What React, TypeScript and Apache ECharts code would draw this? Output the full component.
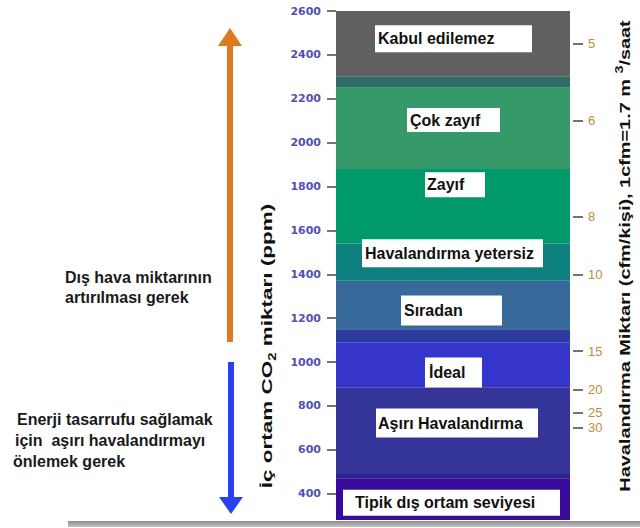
import React, { useEffect, useRef } from "react";
import * as echarts from "echarts";

// CO2 scale (ppm)
const yMin = 280;
const yMax = 2600;
const leftTicks = [400, 600, 800, 1000, 1200, 1400, 1600, 1800, 2000, 2200, 2400, 2600];

// Colour bands (ppm ranges)
const bandLower = [2300, 2250, 1880, 1540, 1370, 1150, 1090, 885, 490, 470, 280];
const bandUpper = [2600, 2300, 2250, 1880, 1540, 1370, 1150, 1090, 885, 490, 470];

// Band labels and the ppm level each label sits at
const labelNames = [
  "Kabul edilemez",
  "Çok zayıf",
  "Zayıf",
  "Havalandırma yetersiz",
  "Sıradan",
  "İdeal",
  "Aşırı Havalandırma",
  "Tipik dış ortam seviyesi",
];
const labelLevels = [2474, 2103, 1808, 1496, 1235, 952, 722, 359];

// Right axis: ventilation rate (cfm/person) and the ppm level each tick marks
const rightTickLabels = ["5", "6", "8", "10", "15", "20", "25", "30"];
const rightTickPpm = [2450, 2100, 1662, 1400, 1050, 875, 770, 700];

// Styles (kept apart from data)
const bandColors = [
  "#606060",
  "#2e6a66",
  "#35996a",
  "#00996b",
  "#0f8080",
  "#37699b",
  "#2b3b9e",
  "#3535cc",
  "#343499",
  "#2c2290",
  "#380a99",
];
const boxDx = [-78, -46, -28, -91, -52, -28, -77, -110];
const boxW = [157, 93, 60, 181, 101, 57, 162, 217];
const boxH = [27, 24, 25, 28, 30, 30, 29, 26];
const boxPad = [3, 3, 2, 3, 3, 4, 2, 12];

const FONT = "Liberation Sans";

export default function App() {
  const ref = useRef<HTMLDivElement>(null);

  useEffect(() => {
    if (!ref.current) return;
    const chart = echarts.init(ref.current, null, { renderer: "svg" });

    const bandData = bandLower.map((lo, i) => [0, lo, bandUpper[i], i]);
    const labelData = labelLevels.map((lv, i) => [0.5, lv, i]);

    const option: any = {
      animation: false,
      backgroundColor: "#ffffff",
      grid: { left: 336, right: 70, top: 11, bottom: 8 },
      xAxis: { type: "value", min: 0, max: 1, show: false },
      yAxis: [
        {
          type: "value",
          min: yMin,
          max: yMax,
          position: "left",
          offset: 3,
          axisLine: { show: false },
          splitLine: { show: false },
          axisTick: {
            show: true,
            length: 9,
            customValues: leftTicks,
            lineStyle: { color: "#444", width: 1.5 },
          },
          axisLabel: {
            customValues: leftTicks,
            margin: 12,
            color: "#5151b3",
            fontFamily: "DejaVu Sans",
            fontWeight: "bold",
            fontSize: 11,
            formatter: (v: number) => String(Math.round(v)),
          },
        },
        {
          type: "value",
          min: yMin,
          max: yMax,
          position: "right",
          offset: 3,
          axisLine: { show: false },
          splitLine: { show: false },
          axisTick: {
            show: true,
            length: 10,
            customValues: rightTickPpm,
            lineStyle: { color: "#444", width: 1.5 },
          },
          axisLabel: {
            customValues: rightTickPpm,
            margin: 15,
            color: "#c48b3a",
            fontFamily: FONT,
            fontSize: 13,
            formatter: (v: number) => {
              const i = rightTickPpm.findIndex((p) => Math.abs(p - v) < 0.5);
              return i >= 0 ? rightTickLabels[i] : "";
            },
          },
        },
      ],
      series: [
        {
          type: "custom",
          silent: true,
          clip: false,
          data: bandData,
          encode: { x: 0, y: [1, 2] },
          renderItem: (params: any, api: any) => {
            const lo = api.value(1);
            const hi = api.value(2);
            const idx = api.value(3);
            const p1 = api.coord([0, hi]);
            const p2 = api.coord([1, lo]);
            return {
              type: "rect",
              shape: { x: p1[0], y: p1[1], width: p2[0] - p1[0], height: p2[1] - p1[1] },
              style: { fill: bandColors[idx] },
            };
          },
        },
        {
          type: "custom",
          silent: true,
          clip: false,
          data: labelData,
          encode: { x: 0, y: 1 },
          renderItem: (params: any, api: any) => {
            const idx = api.value(2);
            const c = api.coord([api.value(0), api.value(1)]);
            const x = c[0] + boxDx[idx];
            const y = c[1] - boxH[idx] / 2;
            return {
              type: "group",
              children: [
                {
                  type: "rect",
                  shape: { x, y, width: boxW[idx], height: boxH[idx] },
                  style: { fill: "#ffffff" },
                },
                {
                  type: "text",
                  x: x + boxPad[idx],
                  y: c[1],
                  style: {
                    text: labelNames[idx],
                    fill: "#111",
                    fontFamily: FONT,
                    fontWeight: "bold",
                    fontSize: 16,
                    align: "left",
                    verticalAlign: "middle",
                  },
                },
              ],
            };
          },
        },
      ],
      graphic: [
        // orange arrow (up)
        { type: "rect", shape: { x: 227, y: 44, width: 6, height: 298 }, style: { fill: "#dd7a1e" } },
        { type: "polygon", shape: { points: [[218, 46], [242, 46], [230, 28]] }, style: { fill: "#dd7a1e" } },
        // blue arrow (down)
        { type: "rect", shape: { x: 228, y: 362, width: 6, height: 137 }, style: { fill: "#2a3ff0" } },
        { type: "polygon", shape: { points: [[219, 497], [243, 497], [231, 514]] }, style: { fill: "#2a3ff0" } },
        // bottom line
        {
          type: "rect",
          shape: { x: 68, y: 521, width: 572, height: 6 },
          style: {
            fill: new echarts.graphic.LinearGradient(0, 0, 0, 1, [
              { offset: 0, color: "#8c8c8c" },
              { offset: 1, color: "#c4c4c4" },
            ]),
          },
        },
        // left notes
        ...[
          { t: "Dış hava miktarının", x: 65, y: 277 },
          { t: "artırılması gerek", x: 65, y: 297 },
          { t: "Enerji tasarrufu sağlamak", x: 17, y: 419 },
          { t: "için  aşırı havalandırmayı", x: 15, y: 440 },
          { t: "önlemek gerek", x: 13, y: 461 },
        ].map((o) => ({
          type: "text",
          x: o.x,
          y: o.y,
          style: {
            text: o.t,
            fill: "#1a1a1a",
            fontFamily: FONT,
            fontWeight: "bold",
            fontSize: 16,
            align: "left",
            verticalAlign: "middle",
          },
        })),
        // left axis title
        {
          type: "text",
          x: 267,
          y: 346,
          rotation: Math.PI / 2,
          scaleX: 1.5,
          style: {
            text: "{a|İç ortam CO}{b|2}{a| miktarı (ppm)}",
            align: "center",
            verticalAlign: "middle",
            rich: {
              a: { fontFamily: FONT, fontWeight: "bold", fontSize: 15, lineHeight: 20, fill: "#111" },
              b: { fontFamily: FONT, fontWeight: "bold", fontSize: 10, lineHeight: 10, verticalAlign: "bottom", fill: "#111" },
            },
          },
        },
        // right axis title
        {
          type: "text",
          x: 625,
          y: 256,
          rotation: Math.PI / 2,
          scaleX: 1.42,
          style: {
            text: "{a|Havalandırma Miktarı (cfm/kişi), 1cfm=1.7 m }{s|3}{a|/saat}",
            align: "center",
            verticalAlign: "middle",
            rich: {
              a: { fontFamily: FONT, fontWeight: "bold", fontSize: 14, lineHeight: 20, fill: "#111" },
              s: { fontFamily: FONT, fontWeight: "bold", fontSize: 10, lineHeight: 10, verticalAlign: "top", fill: "#111" },
            },
          },
        },
      ],
    };

    chart.setOption(option);
    return () => chart.dispose();
  }, []);

  return (
    <div
      ref={ref}
      style={{ position: "fixed", left: 0, top: 0, width: 640, height: 528, background: "#fff" }}
    />
  );
}
